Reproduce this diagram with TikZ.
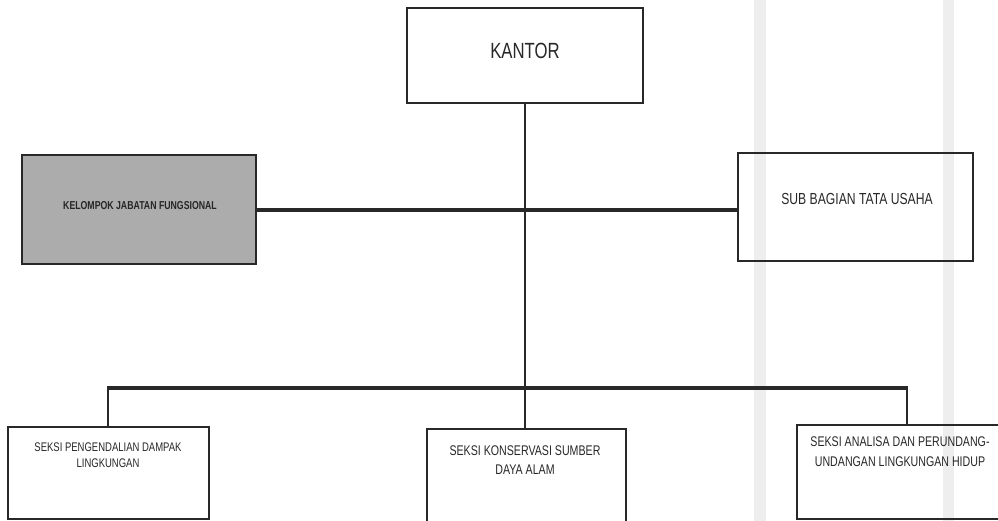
\documentclass[tikz,border=0pt]{standalone}
\usepackage{fontspec}
\newfontfamily\narrow{Liberation Sans}[FakeStretch=0.76]
\definecolor{ink}{RGB}{40,40,40}
\definecolor{boxgray}{RGB}{172,172,172}
\definecolor{scan}{RGB}{238,238,238}
\tikzset{
  orgbox/.style={draw=ink, line width=1.6pt, inner sep=0pt},
  boxtext/.style={font=\narrow\fontsize{13.5}{17}\selectfont, text=ink, align=center, inner sep=0pt},
  thickline/.style={draw=ink, line width=3.2pt},
  thinline/.style={draw=ink, line width=1.3pt},
}
\begin{document}
\begin{tikzpicture}[x=1pt,y=-1pt]
\fill[white] (0,0) rectangle (998,521);
\useasboundingbox (0,0) rectangle (998,521);
\clip (0,0) rectangle (998,521);
% faint scan stripes
\fill[scan] (754,0) rectangle (766,521);
\fill[scan] (943,0) rectangle (954,521);
% boxes
\node[orgbox, fill=white, line width=2.2pt, minimum width=236pt, minimum height=95pt] (kantor) at (525,55.5) {};
\node[boxtext, font=\narrow\fontsize{22}{26}\selectfont] (kantort) at (525,51) {KANTOR};
\node[orgbox, fill=boxgray, minimum width=234pt, minimum height=109pt] (kel) at (139,209.5) {};
\node[boxtext, font=\narrow\bfseries\fontsize{11.5}{14}\selectfont, text=black!85] (kelt) at (140,206) {KELOMPOK JABATAN FUNGSIONAL};
\node[orgbox, minimum width=235pt, minimum height=108pt] (sub) at (855.5,207) {};
\node[boxtext, font=\narrow\fontsize{16}{19}\selectfont] (subt) at (857,199) {SUB BAGIAN TATA USAHA};
\node[orgbox, minimum width=201pt, minimum height=92pt] (b1) at (108.5,473) {};
\node[boxtext, font=\narrow\fontsize{12.5}{16}\selectfont] (b1t) at (108,455) {SEKSI PENGENDALIAN DAMPAK\\LINGKUNGAN};
\node[orgbox, minimum width=199pt, minimum height=101pt] (b2) at (526.5,479.5) {};
\node[boxtext, font=\narrow\fontsize{14}{19}\selectfont] (b2t) at (525,460) {SEKSI KONSERVASI SUMBER\\DAYA ALAM};
\node[orgbox, minimum width=208pt, minimum height=94pt] (b3) at (901,472) {};
\node[boxtext, font=\narrow\fontsize{14}{20}\selectfont] (b3t) at (900,452) {SEKSI ANALISA DAN PERUNDANG-\\UNDANGAN LINGKUNGAN HIDUP};
% connectors
\coordinate (hl) at (256,210);
\coordinate (jl) at (108,388);
\coordinate (jm) at (525,388);
\coordinate (jr) at (907,388);
\draw[thickline] (kel.east |- hl) -- (sub.west |- hl);
\draw[thinline] (kantor.south) -- (jm);
\draw[thickline] ([xshift=-0.6pt]jl) -- ([xshift=0.6pt]jr);
\draw[thinline] (jl) -- (jl |- b1.north);
\draw[thinline] (jm) -- (jm |- b2.north);
\draw[thinline] (jr) -- (jr |- b3.north);
\end{tikzpicture}
\end{document}
